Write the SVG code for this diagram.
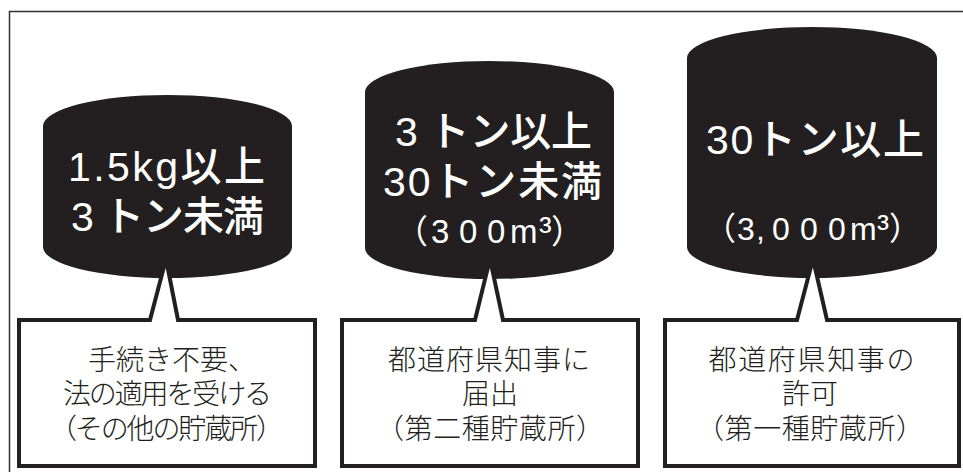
<svg xmlns="http://www.w3.org/2000/svg" width="963" height="472" viewBox="0 0 963 472">
<style>
.frame{fill:none;stroke:#333;stroke-width:1.5}
.cyl{fill:#231f20}
.box{fill:#fff;stroke:#231f20;stroke-width:4;stroke-miterlimit:12}
.ct{font-family:"Liberation Sans","Noto Sans CJK JP",sans-serif;font-weight:500;font-size:41px;fill:#fff;text-anchor:middle}
.cs{font-family:"Liberation Sans","Noto Sans CJK JP",sans-serif;font-weight:400;fill:#fff}
.bt{font-family:"Liberation Sans","Noto Sans CJK JP",sans-serif;font-weight:300;font-size:28px;fill:#231f20;text-anchor:middle}
</style>
<rect width="963" height="472" fill="#fff"/>
<path class="frame" d="M9.5,476 V11.5 H966"/>
<g id="node1">
<path class="cyl" d="M43,126 A124.5,31 0 0 1 292,126 V247 A124.5,31 0 0 1 43,247 Z"/>
<text class="ct" x="166.5" y="181" textLength="197" lengthAdjust="spacing">1.5kg以上</text>
<text class="ct" x="167.5" y="231" textLength="193" lengthAdjust="spacing">3 トン未満</text>
</g>
<g id="node2">
<path class="cyl" d="M365,92 A124.5,31 0 0 1 614,92 V248 A124.5,31 0 0 1 365,248 Z"/>
<text class="ct" x="493.5" y="146" textLength="197" lengthAdjust="spacing">3 トン以上</text>
<text class="ct" x="492.5" y="196" textLength="219" lengthAdjust="spacing">30トン未満</text>
<text class="cs" y="243" font-size="33"><tspan x="395">（</tspan><tspan x="431">3</tspan><tspan x="459">0</tspan><tspan x="487">0</tspan><tspan x="510">m</tspan><tspan x="539" font-size="38">³</tspan><tspan x="551">）</tspan></text>
</g>
<g id="node3">
<path class="cyl" d="M687,58 A125,31 0 0 1 937,58 V247 A125,31 0 0 1 687,247 Z"/>
<text class="ct" x="815" y="154" textLength="218" lengthAdjust="spacing">30トン以上</text>
<text class="cs" y="240" font-size="32"><tspan x="704">（</tspan><tspan x="737">3</tspan><tspan x="756">,</tspan><tspan x="772">0</tspan><tspan x="800">0</tspan><tspan x="828">0</tspan><tspan x="850">m</tspan><tspan x="877" font-size="36">³</tspan><tspan x="889">）</tspan></text>
</g>
<g id="connectors">
</g>
<g id="box1">
<path class="box" d="M19,320 H150 L166,259 L178,320 H315 V466 H19 Z"/>
<text class="bt" x="172" y="370" textLength="168" lengthAdjust="spacing">手続き不要、</text>
<text class="bt" x="167.5" y="404" textLength="209" lengthAdjust="spacing">法の適用を受ける</text>
<text class="bt" x="166.5" y="439" textLength="235" lengthAdjust="spacing">（その他の貯蔵所）</text>
</g>
<g id="box2">
<path class="box" d="M342,320 H475 L490,259 L503,320 H638 V466 H342 Z"/>
<text class="bt" x="489" y="370" textLength="202" lengthAdjust="spacing">都道府県知事に</text>
<text class="bt" x="490" y="404">届出</text>
<text class="bt" x="490" y="439" textLength="228" lengthAdjust="spacing">（第二種貯蔵所）</text>
</g>
<g id="box3">
<path class="box" d="M665,320 H797 L813,259 L827,320 H959 V466 H665 Z"/>
<text class="bt" x="811.5" y="370" textLength="206" lengthAdjust="spacing">都道府県知事の</text>
<text class="bt" x="810" y="404">許可</text>
<text class="bt" x="810" y="439" textLength="228" lengthAdjust="spacing">（第一種貯蔵所）</text>
</g>
</svg>
